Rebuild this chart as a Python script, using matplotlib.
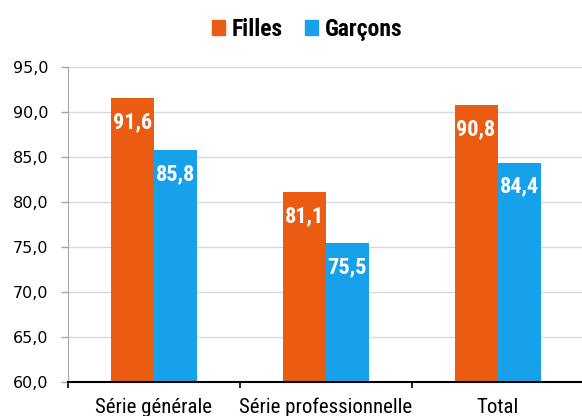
import matplotlib.pyplot as plt
from matplotlib.patches import Patch
import numpy as np

categories = ["Série générale", "Série professionnelle", "Total"]
filles = [91.6, 81.1, 90.8]
garcons = [85.8, 75.5, 84.4]
yticks = [60, 65, 70, 75, 80, 85, 90, 95]

orange = "#E95C12"
blue = "#17A1EB"
cond = ["Roboto Condensed", "Liberation Sans", "DejaVu Sans"]

fig = plt.figure(figsize=(5.82, 4.16), dpi=100)
ax = fig.add_axes([67.7 / 582, 1 - 382.3 / 416, 515.8 / 582, 315 / 416])

x = np.arange(len(categories))
w = 0.25
b1 = ax.bar(x - w / 2, filles, w, color=orange, zorder=2)
b2 = ax.bar(x + w / 2, garcons, w, color=blue, zorder=2)

def fmt(v):
    return f"{v:.1f}".replace(".", ",")

for bars, vals in [(b1, filles), (b2, garcons)]:
    for r, v in zip(bars, vals):
        ax.text(r.get_x() + r.get_width() / 2, v - 2.4, fmt(v), ha="center", va="center_baseline",
                color="white", fontsize=16, fontweight="bold", family=cond, zorder=3)

ax.set_xlim(-0.5, 2.5)
ax.set_ylim(60, 95)
ax.set_yticks(yticks)
ax.set_yticklabels([fmt(t) for t in yticks], family="DejaVu Sans", fontsize=11.5)
ax.yaxis.grid(True, color="#d9d9d9", lw=1, zorder=0)

ax.set_xticks(x)
ax.set_xticklabels(categories, family=cond, fontsize=15)
ax.set_xticks([-0.5, 0.5, 1.5, 2.5], minor=True)
ax.tick_params(axis="x", which="major", length=0, pad=11)
ax.tick_params(axis="x", which="minor", length=4.5, width=1.2, color="black")
ax.tick_params(axis="y", length=4.8, width=1, color="#a6a6a6", pad=9)

for s in ["top", "right"]:
    ax.spines[s].set_visible(False)
ax.spines["left"].set_color("#a6a6a6")
ax.spines["bottom"].set_color("black")
ax.spines["bottom"].set_linewidth(1.5)

handles = [Patch(color=orange, label="Filles"), Patch(color=blue, label="Garçons")]
fig.legend(handles=handles, loc="center", bbox_to_anchor=(0.528, 0.929), ncol=2, frameon=False,
           prop={"family": cond, "weight": "bold", "size": 17},
           handlelength=0.55, handleheight=0.6, handletextpad=0.3, columnspacing=0.95)

fig.savefig("out.png", dpi=100)
